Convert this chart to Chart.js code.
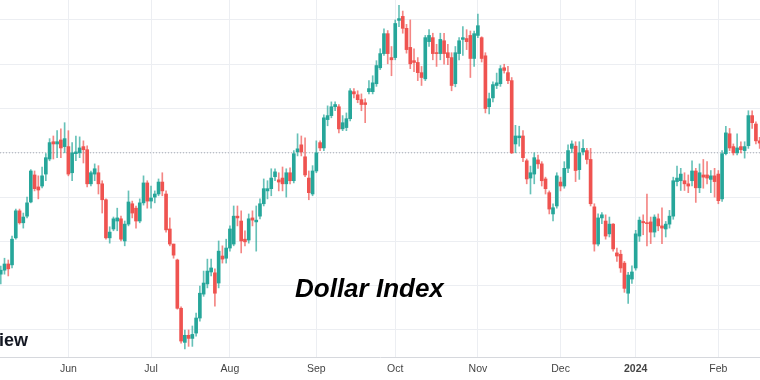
<!DOCTYPE html>
<html>
<head>
<meta charset="utf-8">
<script src="https://cdn.jsdelivr.net/npm/chart.js@4"></script>
<style>
html,body{margin:0;padding:0;background:#ffffff;}
#wrap{width:760px;height:380px;position:relative;}
</style>
</head>
<body>
<div id="wrap"><canvas id="c" width="760" height="380"></canvas></div>
<script>
// Daily candles, 8 May 2023 .. 16 Feb 2024 (index = trading day)
const openP = [
101.26,101.35,101.49,101.47,102.08,102.69,102.42,102.57,102.89,103.50,
103.23,103.25,103.52,103.86,104.25,104.20,104.29,104.14,104.14,103.55,
103.98,104.00,104.14,104.07,103.30,103.52,103.55,103.30,102.94,102.08,
102.28,102.46,102.51,102.01,102.39,102.85,102.75,102.46,102.87,103.32,
102.91,103.00,103.07,103.34,103.07,102.28,101.94,101.58,100.49,99.72,
99.88,99.81,99.93,100.27,100.81,101.04,101.31,101.29,101.06,101.67,
101.62,101.85,101.94,102.57,102.46,102.05,102.03,102.53,102.44,102.57,
102.85,103.14,103.19,103.46,103.39,103.43,103.30,103.55,103.37,104.02,
104.18,103.91,103.43,103.07,103.59,104.23,104.11,104.75,104.84,105.04,
105.04,104.54,104.57,104.77,105.38,105.31,105.20,105.13,105.38,105.38,
105.56,105.92,106.24,106.69,106.15,106.15,106.99,107.08,106.81,106.38,
106.08,106.04,105.81,105.67,106.51,106.60,106.26,106.24,106.53,106.26,
106.15,105.56,106.24,106.56,106.58,106.65,106.13,106.65,106.60,106.19,
105.04,105.24,105.52,105.56,105.92,105.81,105.63,104.20,104.34,104.38,
103.82,103.43,103.52,103.84,103.75,103.41,103.10,102.62,102.80,103.34,
103.25,103.65,104.10,104.15,103.62,104.02,104.05,103.85,102.78,101.94,
102.53,102.46,102.17,102.39,101.74,101.71,101.51,100.83,101.15,101.40,
102.12,102.45,102.42,102.44,102.21,102.51,102.35,102.28,102.39,102.57,
103.35,103.37,103.37,103.30,103.37,103.59,103.21,103.50,103.50,103.40,
103.48,103.52,102.96,103.98,104.43,104.14,104.00,104.14,104.05,104.16,
104.84,104.65,104.27
];
const highP = [
101.44,101.62,101.58,102.12,102.73,102.73,102.64,103.00,103.62,103.59,
103.48,103.68,103.98,104.32,104.38,104.50,104.54,104.68,104.50,104.23,
104.38,104.36,104.27,104.16,103.59,103.75,103.71,103.37,102.96,102.33,
102.55,102.75,102.57,102.46,103.14,102.91,102.80,102.96,103.48,103.37,
103.25,103.14,103.41,103.55,103.14,102.53,101.94,101.60,100.52,100.00,
100.00,100.09,100.38,100.99,101.33,101.60,101.60,101.38,102.01,101.90,
102.05,102.35,102.80,102.80,102.69,102.24,102.62,102.69,102.80,102.96,
103.41,103.37,103.64,103.64,103.55,103.68,103.64,103.66,104.05,104.43,
104.38,104.34,103.59,103.71,104.27,104.27,104.86,105.06,105.15,105.15,
105.09,104.84,104.90,105.45,105.45,105.40,105.33,105.22,105.63,105.74,
106.08,106.35,106.80,106.76,106.40,107.00,107.33,107.20,106.90,107.00,
106.35,106.15,105.95,106.65,106.78,106.70,106.45,106.70,106.70,106.45,
106.26,106.40,106.60,106.85,106.78,106.75,106.75,107.13,106.62,106.26,
105.35,105.60,105.80,105.97,106.00,105.95,105.70,104.62,104.60,104.50,
103.86,103.70,104.00,103.95,103.80,103.45,103.14,102.85,103.55,103.45,
103.80,104.18,104.27,104.25,104.25,104.30,104.10,104.10,102.85,102.62,
102.65,102.60,102.55,102.40,101.85,101.80,101.55,101.30,101.45,102.25,
102.55,102.60,103.07,102.55,102.60,102.62,102.76,102.45,102.70,103.45,
103.70,103.65,103.55,103.50,103.82,103.65,103.75,103.85,103.80,103.60,
103.65,103.60,104.05,104.60,104.55,104.20,104.43,104.25,104.25,104.95,
104.95,104.70,104.35
];
const lowP = [
101.04,101.26,101.22,101.40,102.05,102.39,102.30,102.53,102.87,103.14,
102.96,103.21,103.37,103.82,103.86,103.89,103.89,104.00,103.48,103.37,
103.82,103.89,103.77,103.23,103.25,103.37,103.07,102.64,102.05,101.96,
102.24,102.24,102.01,101.90,102.35,102.53,102.30,102.42,102.82,102.75,
102.75,102.87,103.03,103.03,102.21,101.90,101.62,100.47,99.70,99.57,
99.63,99.63,99.86,100.20,100.76,100.95,101.22,100.54,100.95,101.51,
101.51,101.78,101.90,102.35,101.74,101.90,101.96,102.35,101.78,102.51,
102.80,102.96,103.03,103.37,103.14,103.14,103.00,103.30,103.32,103.93,
103.93,103.46,102.94,103.03,103.55,104.05,104.05,104.61,104.79,104.95,
104.45,104.50,104.50,104.72,105.24,105.13,104.95,104.68,105.33,105.33,
105.50,105.88,106.20,106.01,105.74,106.10,106.85,106.70,106.25,105.90,
105.83,105.63,105.52,105.63,106.40,106.10,105.95,106.10,106.00,105.99,
105.40,105.49,106.10,106.20,106.33,105.70,105.95,106.60,106.05,104.90,
104.88,105.15,105.45,105.50,105.80,105.56,103.98,104.00,104.15,103.80,
103.30,103.07,103.30,103.65,103.25,103.07,102.62,102.46,102.75,103.14,
103.20,103.55,104.00,103.35,103.40,103.95,103.75,102.80,101.78,101.90,
102.40,102.05,102.10,101.78,101.55,101.30,100.85,100.60,101.05,101.35,
102.00,102.15,101.90,101.95,102.10,102.24,101.95,102.10,102.30,102.50,
103.25,103.15,103.15,103.10,103.25,102.88,103.10,103.20,103.30,103.10,
103.00,102.85,102.90,103.95,104.05,103.95,103.95,104.00,103.88,104.10,
104.55,104.20,104.10
];
const closeP = [
101.35,101.49,101.38,102.05,102.69,102.42,102.55,102.87,103.59,103.19,
103.16,103.48,103.89,104.23,104.20,104.25,104.11,104.32,103.52,104.00,
104.02,104.11,104.07,103.30,103.55,103.64,103.30,102.94,102.08,102.21,
102.51,102.53,102.05,102.39,102.89,102.64,102.46,102.87,103.32,102.91,
102.98,103.07,103.34,103.14,102.26,101.94,101.69,100.49,99.75,99.88,
99.81,99.90,100.27,100.83,101.06,101.33,101.40,100.83,101.78,101.60,
101.85,102.28,102.57,102.53,102.01,101.99,102.51,102.48,102.48,102.85,
103.19,103.19,103.43,103.57,103.34,103.30,103.55,103.37,103.98,104.09,
104.02,103.50,103.10,103.59,104.00,104.11,104.79,104.84,105.04,105.09,
104.54,104.68,104.77,105.40,105.33,105.20,105.09,105.09,105.45,105.58,
105.97,106.24,106.69,106.24,106.10,106.92,107.03,106.81,106.33,106.01,
106.04,105.81,105.70,106.60,106.65,106.24,106.24,106.56,106.24,106.15,
105.52,106.26,106.53,106.60,106.51,106.13,106.69,106.87,106.13,105.00,
105.22,105.54,105.58,105.90,105.86,105.63,104.00,104.38,104.38,103.89,
103.41,103.55,103.89,103.75,103.37,103.19,102.73,102.76,103.48,103.25,
103.65,104.05,104.20,103.60,104.00,104.10,103.85,102.85,101.94,102.53,
102.60,102.12,102.39,101.83,101.67,101.40,100.94,101.24,101.31,102.17,
102.48,102.42,102.40,102.21,102.55,102.35,102.30,102.39,102.57,103.37,
103.43,103.52,103.30,103.25,103.59,103.21,103.55,103.45,103.43,103.48,
103.35,102.92,103.98,104.45,104.11,104.00,104.11,104.07,104.14,104.84,
104.68,104.27,104.22
];
const monthTickIdx = [18, 40, 61, 84, 105, 127, 149, 169, 191];
const monthTickLabels = ['Jun', 'Jul', 'Aug', 'Sep', 'Oct', 'Nov', 'Dec', '2024', 'Feb'];
const yGridValues = [100, 101, 102, 103, 104, 105, 106, 107];
const refLevel = 104.0;
const titleText = 'Dollar Index';
const logoText = 'iew';

// view window
const X_MIN = -0.2, X_MAX = 202.09;
const Y_MIN = 99.39, Y_MAX = 107.45;

const UP = '#26a69a', DOWN = '#ef5350';
const UP_W = 'rgba(38,166,154,0.7)', DOWN_W = 'rgba(239,83,80,0.7)';

const idx = openP.map((_, i) => i);
const isUp = idx.map(i => closeP[i] >= openP[i]);
const bodies = idx.map(i => ({x: i, y: [openP[i], closeP[i]]}));
const wicks = idx.map(i => ({x: i, y: [lowP[i], highP[i]]}));

const textPlugin = {
  id: 'overlayText',
  afterDraw(chart) {
    const c = chart.ctx;
    c.save();
    c.textBaseline = 'alphabetic';
    c.textAlign = 'left';
    c.fillStyle = '#000000';
    c.font = 'italic bold 26px "Liberation Sans", Arial, sans-serif';
    c.fillText(titleText, 295, 297);
    c.fillStyle = '#131722';
    c.font = 'bold 18px "Liberation Sans", Arial, sans-serif';
    c.fillText(logoText, -1, 346);
    c.restore();
  }
};

new Chart(document.getElementById('c'), {
  type: 'bar',
  data: {
    datasets: [
      {
        type: 'line',
        data: [{x: X_MIN, y: refLevel}, {x: X_MAX, y: refLevel}],
        borderColor: '#a9acb4',
        borderWidth: 1,
        borderDash: [1, 2],
        pointRadius: 0,
        order: 3
      },
      {
        data: wicks,
        backgroundColor: isUp.map(u => u ? UP_W : DOWN_W),
        barThickness: 1,
        grouped: false,
        borderWidth: 0,
        order: 2
      },
      {
        data: bodies,
        backgroundColor: isUp.map(u => u ? UP : DOWN),
        barThickness: 3,
        grouped: false,
        minBarLength: 1,
        borderWidth: 0,
        order: 1
      }
    ]
  },
  options: {
    responsive: false,
    animation: false,
    devicePixelRatio: 1,
    layout: {padding: 0},
    plugins: {legend: {display: false}, tooltip: {enabled: false}},
    scales: {
      x: {
        type: 'linear',
        min: X_MIN,
        max: X_MAX,
        offset: false,
        grid: {color: '#eceef2', drawTicks: false, offset: false},
        border: {color: '#d6d8dd'},
        afterBuildTicks: s => { s.ticks = monthTickIdx.map(v => ({value: v})); },
        afterFit: s => { s.height = 23; },
        ticks: {
          autoSkip: false,
          maxRotation: 0,
          padding: 6,
          color: '#444444',
          font: ctx => ({
            family: '"Liberation Sans", Arial, sans-serif',
            size: 10.5,
            weight: (ctx.tick && monthTickLabels[monthTickIdx.indexOf(ctx.tick.value)] === '2024') ? 'bold' : 'normal'
          }),
          callback: v => { const k = monthTickIdx.indexOf(v); return k >= 0 ? monthTickLabels[k] : ''; }
        }
      },
      y: {
        type: 'linear',
        position: 'right',
        min: Y_MIN,
        max: Y_MAX,
        beginAtZero: false,
        grid: {color: '#eceef2', drawTicks: false},
        border: {display: false},
        ticks: {display: false},
        afterBuildTicks: s => { s.ticks = yGridValues.map(v => ({value: v})); },
        afterFit: s => { s.width = 0; }
      }
    }
  },
  plugins: [textPlugin]
});
</script>
</body>
</html>
